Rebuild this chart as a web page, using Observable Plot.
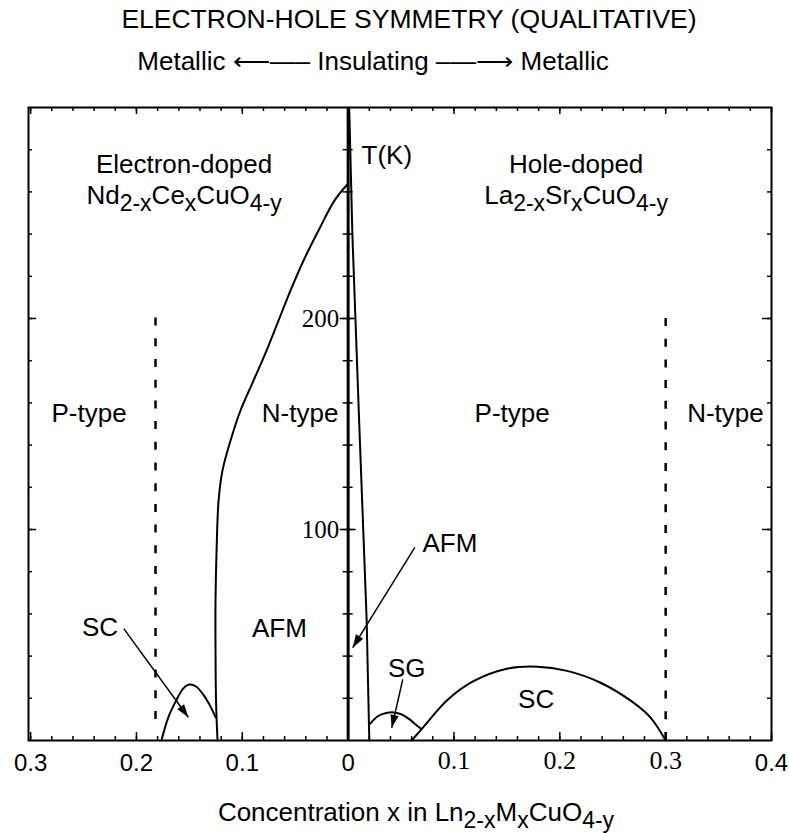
<!DOCTYPE html>
<html>
<head>
<meta charset="utf-8">
<script src="https://cdn.jsdelivr.net/npm/d3@7"></script>
<script src="https://cdn.jsdelivr.net/npm/@observablehq/plot@0.6"></script>
<style>
  html, body { margin: 0; padding: 0; background: #fff; }
</style>
</head>
<body>
<div id="chart"></div>
<script>
// ---------- text ----------
const titleText = "ELECTRON-HOLE SYMMETRY (QUALITATIVE)";
const subtitleText = "Metallic \u27F5\u2014\u2013 Insulating \u2013\u2014\u27F6 Metallic";
const xAxisTitle = "Concentration x in Ln_{2-x}M_{x}CuO_{4-y}";

// ---------- ticks (x < 0 : electron doping, x > 0 : hole doping) ----------
const xTickValues = [-0.3, -0.2, -0.1, 0, 0.1, 0.2, 0.3, 0.4];
const xTickLabels = ["0.3", "0.2", "0.1", "0", "0.1", "0.2", "0.3", "0.4"];
const xTickSerif  = [false, false, false, false, true, true, true, false];
const yTickValues = [100, 200];
const yTickLabels = ["100", "200"];

// ---------- region labels ----------
const labelText = ["Electron-doped", "Nd_{2-x}Ce_{x}CuO_{4-y}", "Hole-doped", "La_{2-x}Sr_{x}CuO_{4-y}",
                   "T(K)", "P-type", "N-type", "P-type", "N-type", "SC", "AFM", "AFM", "SG", "SC"];
const labelX    = [-0.155, -0.155, 0.2154, 0.2154, 0.0365, -0.2448, -0.0454, 0.155, 0.3565, -0.2345, -0.065, 0.0961, 0.0554, 0.1776];
const labelT    = [273, 258.3, 273, 258.3, 277, 155, 155, 155, 155, 53.6, 53, 93.4, 34, 19.4];

// ---------- phase boundaries ----------
// electron-doped AFM boundary
const eAfmX = [-0.1234, -0.1248, -0.1253, -0.1253, -0.1243, -0.1224, -0.1187, -0.1111, -0.1017, -0.0894, -0.0771, -0.0658, -0.0544, -0.0421, -0.028, -0.0128, 0];
const eAfmT = [0, 18.5, 42.7, 66.4, 90, 113.7, 128, 142.2, 156.4, 170.6, 184.8, 199, 213.3, 227.5, 241.7, 256, 264];
// electron-doped SC dome
const eScX = [-0.1764, -0.1699, -0.1624, -0.1559, -0.1502, -0.1437, -0.1372, -0.1316, -0.1252];
const eScT = [0, 11, 19, 24.6, 26.5, 25.6, 22, 17.5, 11];
// hole-doped AFM boundary
const hAfmX = [0.001, 0.004, 0.0105, 0.0175, 0.02];
const hAfmT = [300, 240, 150, 57, 0];
// spin glass dome
const sgX = [0.021, 0.028, 0.036, 0.043, 0.051, 0.058, 0.064, 0.069];
const sgT = [8, 11.5, 13, 13.3, 12.3, 10, 7.5, 5.5];
// hole-doped SC dome
const hScX = [0.060, 0.0705, 0.0933, 0.118, 0.150, 0.1785, 0.2069, 0.238, 0.2666, 0.2855, 0.300];
const hScT = [0, 6, 19, 28, 34, 35, 33, 27.5, 19, 11, 0];
// P/N dividing dashed lines
const dashX  = [-0.182, 0.300];
const dashT1 = [10, 0];
const dashT2 = [205, 205];
// arrows (label -> region)
const arrowX1 = [-0.212, 0.063, 0.0516];
const arrowT1 = [53, 91.5, 29];
const arrowX2 = [-0.151, 0.0043, 0.0412];
const arrowT2 = [11, 44, 6];

// ---------- layout ----------
const W = 789, H = 833;
const mL = 28, mR = 18, mT = 107, mB = 93;
const innerW = W - mL - mR, innerH = H - mT - mB;
const xDom = [-0.302, 0.4];
const yDom = [0, 300];
const kx = innerW / (xDom[1] - xDom[0]);
const ky = innerH / (yDom[1] - yDom[0]);
const x0px = (0 - xDom[0]) * kx;

const sans = "'Liberation Sans', Arial, Helvetica, sans-serif";
const serif = "'Liberation Serif', 'Times New Roman', serif";
const FS = 26;

const xMinor = d3.range(-15, 21).map(i => i * 0.02);
const xMajor = d3.range(-3, 5).map(i => i / 10);
const yMinor = d3.range(1, 15).map(i => i * 20);

const zip = (xs, ts) => xs.map((x, i) => ({x, T: ts[i]}));
const labels = labelText.map((t, i) => ({t, x: labelX[i], T: labelT[i]}));
const xTicksData = xTickValues.map((v, i) => ({v, label: xTickLabels[i], serif: xTickSerif[i]}));
const dashes = dashX.map((x, i) => ({x, T1: dashT1[i], T2: dashT2[i]}));

// arrows: line + filled narrow head
const arrows = arrowX1.map((x1, i) => {
  const x2 = arrowX2[i], T1 = arrowT1[i], T2 = arrowT2[i];
  const dxs = (x2 - x1) * kx, dys = -(T2 - T1) * ky;
  const len = Math.hypot(dxs, dys);
  const ux = dxs / len, uy = dys / len;
  const back = 8; // px from tip to head origin
  return {
    x1, T1, x2, T2,
    hx: x2 - ux * back / kx,
    hT: T2 + uy * back / ky,
    rot: Math.atan2(ux, -uy) * 180 / Math.PI
  };
});
const headSymbol = {
  draw(ctx, size) {
    const r = Math.sqrt(size / Math.PI);
    ctx.moveTo(0, -1.6 * r);
    ctx.lineTo(0.85 * r, r);
    ctx.lineTo(-0.85 * r, r);
    ctx.closePath();
  }
};

const curve = (xs, ts) => Plot.line(zip(xs, ts), {x: "x", y: "T", stroke: "black", strokeWidth: 2, curve: "catmull-rom"});
const tk = {stroke: "black", strokeWidth: 1.5};

const plot = Plot.plot({
  width: W, height: H,
  marginLeft: mL, marginRight: mR, marginTop: mT, marginBottom: mB,
  x: {domain: xDom, axis: null},
  y: {domain: yDom, axis: null},
  style: {background: "#fff", color: "black"},
  marks: [
    // ticks
    Plot.tickX(xMinor, {x: d => d, insetTop: innerH - 4, ...tk}),
    Plot.tickX(xMajor, {x: d => d, insetTop: innerH - 8, ...tk}),
    Plot.tickX(xMinor, {x: d => d, insetBottom: innerH - 4, ...tk}),
    Plot.tickX(xMajor, {x: d => d, insetBottom: innerH - 7, ...tk}),
    Plot.tickY(yMinor, {y: d => d, insetRight: innerW - 4, ...tk}),
    Plot.tickY(yTickValues, {y: d => d, insetRight: innerW - 8, ...tk}),
    Plot.tickY(yMinor, {y: d => d, insetLeft: innerW - 4, ...tk}),
    Plot.tickY(yTickValues, {y: d => d, insetLeft: innerW - 9, ...tk}),
    Plot.tickY(yMinor, {y: d => d, insetLeft: x0px - 5, insetRight: innerW - x0px - 5, ...tk}),
    Plot.tickY(yTickValues, {y: d => d, insetLeft: x0px - 8, insetRight: innerW - x0px - 8, ...tk}),
    // frame & central T axis
    Plot.frame({stroke: "black", strokeWidth: 2}),
    Plot.ruleX([0], {stroke: "black", strokeWidth: 3}),
    // phase boundaries
    curve(eAfmX, eAfmT),
    curve(eScX, eScT),
    Plot.line(zip(hAfmX, hAfmT), {x: "x", y: "T", stroke: "black", strokeWidth: 2}),
    curve(sgX, sgT),
    curve(hScX, hScT),
    Plot.ruleX(dashes, {x: "x", y1: "T1", y2: "T2", stroke: "black", strokeWidth: 2.5, strokeDasharray: "8,12.7"}),
    // arrows
    Plot.link(arrows, {x1: "x1", y1: "T1", x2: "x2", y2: "T2", stroke: "black", strokeWidth: 1.5}),
    Plot.dot(arrows, {x: "hx", y: "hT", rotate: "rot", symbol: headSymbol, r: 5, fill: "black", stroke: "none"}),
    // labels
    Plot.text(labels, {x: "x", y: "T", text: "t", fontSize: FS, fontFamily: sans, fill: "black", lineAnchor: "middle"}),
    // tick labels
    Plot.text(xTicksData.filter(d => !d.serif), {x: "v", y: () => 0, text: "label", dy: 23, fontSize: 24, fontFamily: sans, fill: "black", lineAnchor: "middle"}),
    Plot.text(xTicksData.filter(d => d.serif), {x: "v", y: () => 0, text: "label", dy: 20, fontSize: 26, fontFamily: serif, fill: "black", lineAnchor: "middle"}),
    Plot.text(yTickValues, {x: () => 0, y: d => d, text: (d, i) => yTickLabels[i], dx: -9, textAnchor: "end", fontSize: 25, fontFamily: serif, fill: "black", lineAnchor: "middle"}),
    // titles
    Plot.text([titleText], {frameAnchor: "top", text: d => d, dx: 9, dy: -88, fontSize: 26.5, fontFamily: sans, fill: "black", lineAnchor: "middle"}),
    Plot.text([subtitleText], {frameAnchor: "top", text: d => d, dx: -27, dy: -46, fontSize: 26, fontFamily: sans, fill: "black", lineAnchor: "middle"}),
    Plot.text([xAxisTitle], {frameAnchor: "bottom", text: d => d, dx: 16, dy: 72, fontSize: 26, fontFamily: sans, fill: "black", lineAnchor: "middle"})
  ]
});

// turn "_{...}" markup into real subscript tspans
function applySubscripts(svg) {
  const NS = "http://www.w3.org/2000/svg";
  svg.querySelectorAll("text").forEach(t => {
    const s = t.textContent;
    if (!s.includes("_{")) return;
    const parts = s.split(/(_\{[^}]*\})/).filter(p => p.length);
    while (t.firstChild) t.removeChild(t.firstChild);
    let low = false;
    parts.forEach(p => {
      const ts = document.createElementNS(NS, "tspan");
      if (p.startsWith("_{")) {
        ts.textContent = p.slice(2, -1);
        ts.setAttribute("font-size", "23");
        if (!low) ts.setAttribute("dy", "7");
        low = true;
      } else {
        ts.textContent = p;
        if (low) ts.setAttribute("dy", "-7");
        low = false;
      }
      t.appendChild(ts);
    });
  });
}
applySubscripts(plot);
document.getElementById("chart").appendChild(plot);
</script>
</body>
</html>
